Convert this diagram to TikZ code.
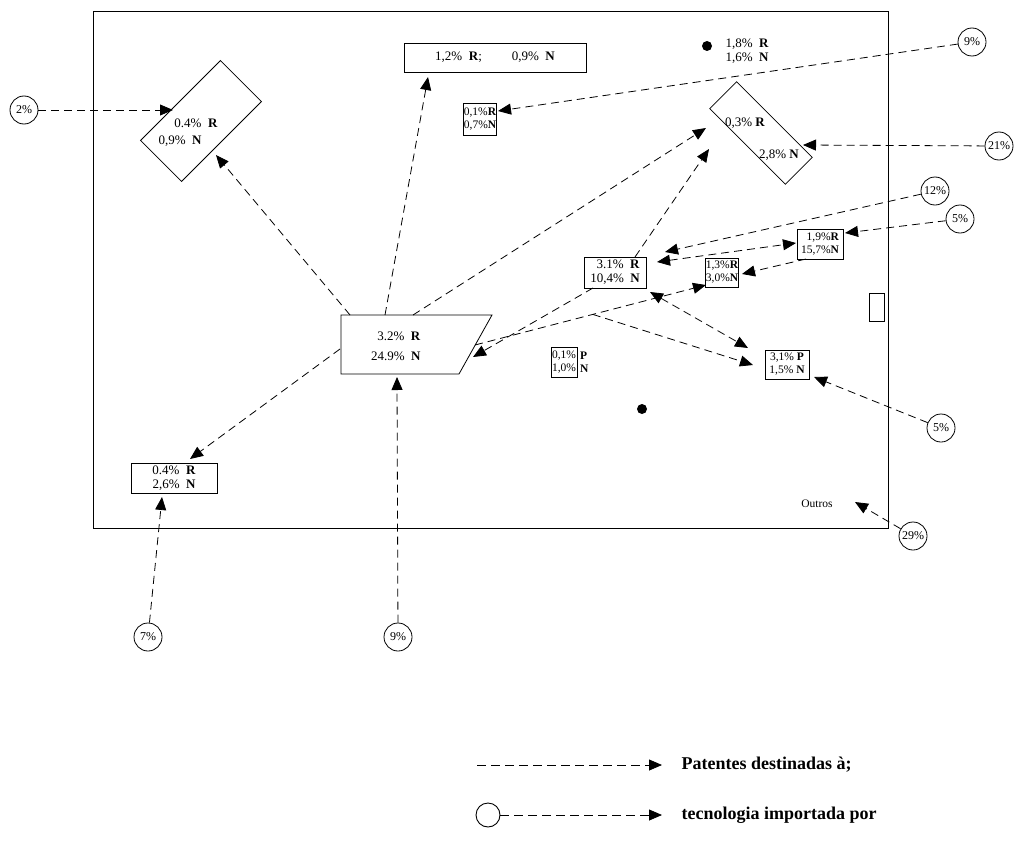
\documentclass[tikz,border=0pt]{standalone}
\usepackage{fontspec}
\setmainfont{Liberation Serif}
\usepackage{tikz}
\usetikzlibrary{arrows.meta, calc}

\newcommand{\fsz}[2]{\fontsize{#1}{#2}\selectfont}

\begin{document}
\begin{tikzpicture}[x=1pt, y=-1pt,
  flow/.style={line width=0.8pt, dash pattern=on 8pt off 5pt,
    -{Triangle[length=13pt, width=11pt]}},
  twoway/.style={flow, {Triangle[length=13pt, width=11pt]}-{Triangle[length=13pt, width=11pt]}},
  pct/.style={circle, draw, line width=0.8pt, minimum size=28pt, inner sep=0pt, font=\fsz{12}{13}},
  share/.style={draw, line width=0.8pt, inner sep=1pt, align=center, font=\fsz{13}{14}},
  tight/.style={share, inner sep=0.5pt, font=\fsz{11.5}{13}},
  dot/.style={circle, fill, inner sep=0pt, minimum size=10pt},
  legend/.style={anchor=west, font=\bfseries\fsz{18}{20}}
]

  \useasboundingbox (0,0) rectangle (1017,843);

  %% Outer frame
  \draw[line width=1pt] (93,12) rectangle (888,528);

  %% Tilted boxes (text kept level)
  \node[draw, line width=0.8pt, rotate=45, minimum width=113pt, minimum height=58pt] (boxA) at (201,121) {};
  \node[font=\fsz{13}{14}] (txtA1) at (196,123) {0.4\%\ \ \textbf{R}};
  \node[font=\fsz{13}{14}] (txtA2) at (180,141) {0,9\%\ \ \textbf{N}};

  \node[draw, line width=0.8pt, rotate=-45, minimum width=107pt, minimum height=38pt] (boxD) at (761,133) {};
  \node[font=\fsz{13}{14}] (txtD1) at (745,123) {0,3\% \textbf{R}};
  \node[font=\fsz{13}{14}] (txtD2) at (779,155) {2,8\% \textbf{N}};

  %% Trapezium
  \draw[line width=0.8pt] (341,315) -- (492,315) -- (459,374) -- (341,374) -- cycle;
  \node[align=right, anchor=east, font=\fsz{13}{20}] (txtT) at (424,346)
    {3.2\%\ \ \textbf{R}\\24.9\%\ \ \textbf{N}};

  %% Share boxes
  \node[share, minimum width=182pt, minimum height=29pt] (boxB) at (495,57.5)
    {1,2\%\ \ \textbf{R};\hspace{30pt}0,9\%\ \ \textbf{N}};
  \node[tight, minimum width=32pt, minimum height=32pt] (boxC) at (480,119) {0,1\%\textbf{R}\\0,7\%\textbf{N}};
  \node[share, align=right, minimum width=62pt, minimum height=31pt] (boxE) at (615,272.5)
    {3.1\%\ \ \textbf{R}\\10,4\%\ \ \textbf{N}};
  \node[tight, minimum width=32pt, minimum height=29pt] (boxF) at (722,272.5) {1,3\%\textbf{R}\\3,0\%\textbf{N}};
  \node[tight, align=right, minimum width=46pt, minimum height=30pt] (boxG) at (820,244) {1,9\%\textbf{R}\\15,7\%\textbf{N}};
  \node[tight, minimum width=26pt, minimum height=30pt] (boxI) at (564,362) {0,1\%\\1,0\%};
  \node[anchor=west, align=left, inner sep=0pt, font=\fsz{11.5}{13}] (txtI) at (580,362) {\textbf{P}\\\textbf{N}};
  \node[tight, minimum width=44pt, minimum height=29pt] (boxJ) at (787,364.5) {3,1\% \textbf{P}\\1,5\% \textbf{N}};
  \node[share, minimum width=86pt, minimum height=30pt] (boxK) at (174,478) {0.4\%\ \ \textbf{R}\\2,6\%\ \ \textbf{N}};
  \node[draw, line width=0.8pt, minimum width=15pt, minimum height=28pt] (boxS) at (876.5,307) {};

  %% Dots and free labels
  \node[dot] (dot1) at (707,46) {};
  \node[anchor=west, align=left, font=\fsz{13}{14}] (txtDot) at (722,51) {1,8\%\ \ \textbf{R}\\1,6\%\ \ \textbf{N}};
  \node[dot] (dot2) at (642,409) {};
  \node[font=\fsz{11.5}{12}] (outros) at (817,504) {Outros};

  %% Percentage circles
  \foreach \nm/\x/\y/\t in {c2/24/110/2\%, c9a/972/42/9\%, c21/999/146/21\%,
    c12/935/191/12\%, c5a/960/219/5\%, c5b/941/428/5\%, c29/913/536/29\%,
    c7/148/637/7\%, c9b/398/637/9\%}{
    \node[pct] (\nm) at (\x,\y) {\t};
  }

  %% Arrow ends
  \coordinate (tA1) at (173,110);
  \coordinate (tA2) at (216,155);
  \coordinate (tB)  at (428,77);
  \coordinate (tC)  at (498,111);
  \coordinate (tD1) at (706,128);
  \coordinate (tD2) at (709,149);
  \coordinate (tD3) at (803,145);
  \coordinate (tE1) at (665,252);
  \coordinate (tE2) at (657,262);
  \coordinate (tE3) at (650,292);
  \coordinate (tF1) at (706,285);
  \coordinate (tF2) at (742,274);
  \coordinate (tG1) at (796,243);
  \coordinate (tG2) at (845,233);
  \coordinate (tJ1) at (748,348);
  \coordinate (tJ2) at (753,365);
  \coordinate (tJ3) at (814,377);
  \coordinate (tK1) at (190,459);
  \coordinate (tK2) at (162,497);
  \coordinate (tT1) at (473,357);
  \coordinate (tT2) at (397,377);
  \coordinate (tO)  at (855,502);

  %% Arrow starts on the shapes
  \coordinate (sT1) at (350,315);
  \coordinate (sT2) at (385,315);
  \coordinate (sT3) at (413,315);
  \coordinate (sT4) at (340,349);
  \coordinate (sT5) at (475,345);
  \coordinate (sE1) at (635,257);
  \coordinate (sE2) at (593,288);
  \coordinate (sG)  at (806,259);
  \coordinate (br)  at ($(sT5)!0.51!(tF1)$);

  %% Imported technology (from circles)
  \foreach \a/\b in {c2/tA1, c9a/tC, c21/tD3, c12/tE1, c5a/tG2,
    c5b/tJ3, c29/tO, c7/tK2, c9b/tT2}{
    \draw[flow] (\a) -- (\b);
  }

  %% Patents between sectors
  \foreach \a/\b in {sT1/tA2, sT2/tB, sT3/tD1, sT4/tK1, sT5/tF1,
    sE1/tD2, sE2/tT1, sG/tF2, br/tJ2}{
    \draw[flow] (\a) -- (\b);
  }
  \draw[twoway] (tE2) -- (tG1);
  \draw[twoway] (tE3) -- (tJ1);

  %% Legend
  \coordinate (lgA) at (477,765);
  \coordinate (lgB) at (662,765);
  \draw[flow, dash pattern=on 9pt off 5pt] (lgA) -- (lgB);
  \node[legend] (lgT1) at (678,765) {Patentes destinadas à;};
  \node[circle, draw, line width=0.9pt, minimum size=24pt, inner sep=0pt] (lgC) at (488,815) {};
  \coordinate (lgD) at (662,815);
  \draw[flow, dash pattern=on 9pt off 5pt] (lgC) -- (lgD);
  \node[legend] (lgT2) at (678,815) {tecnologia importada por};

\end{tikzpicture}
\end{document}
